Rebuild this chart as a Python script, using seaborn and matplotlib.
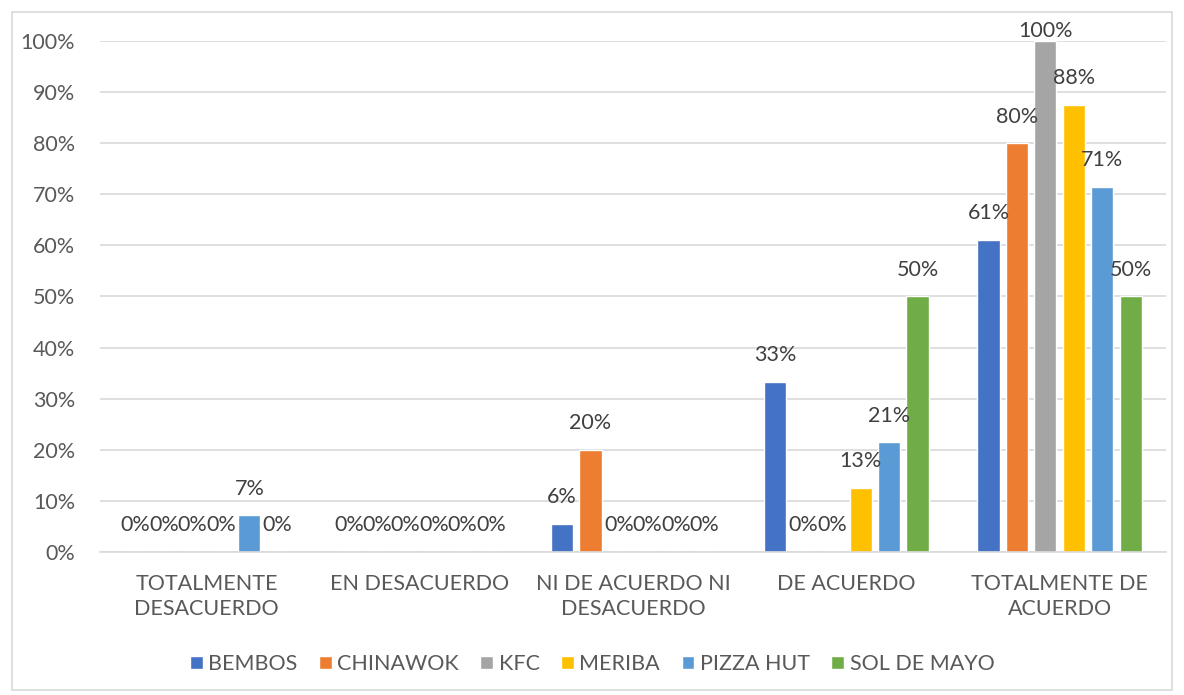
import numpy as np
import pandas as pd
import seaborn as sns
import matplotlib
matplotlib.use("Agg")
import matplotlib.pyplot as plt
from matplotlib.patches import Rectangle
import math

categories = ["TOTALMENTE\nDESACUERDO", "EN DESACUERDO", "NI DE ACUERDO NI\nDESACUERDO",
              "DE ACUERDO", "TOTALMENTE DE\nACUERDO"]
brands = ["BEMBOS", "CHINAWOK", "KFC", "MERIBA", "PIZZA HUT", "SOL DE MAYO"]
bembos = [0.0, 0.0, 5.56, 33.33, 61.11]
chinawok = [0.0, 0.0, 20.0, 0.0, 80.0]
kfc = [0.0, 0.0, 0.0, 0.0, 100.0]
meriba = [0.0, 0.0, 0.0, 12.5, 87.5]
pizza_hut = [7.14, 0.0, 0.0, 21.43, 71.43]
sol_de_mayo = [0.0, 0.0, 0.0, 50.0, 50.0]
colors = ["#4472C4", "#ED7D31", "#A5A5A5", "#FFC000", "#5B9BD5", "#70AD47"]

series = [bembos, chinawok, kfc, meriba, pizza_hut, sol_de_mayo]
rows = []
for b, vals in zip(brands, series):
    for c, v in zip(categories, vals):
        rows.append({"cat": c, "brand": b, "val": v})
df = pd.DataFrame(rows)

sns.set_theme(style="white")
plt.rcParams["font.family"] = ["Lato", "DejaVu Sans"]
FS = 15.5

fig = plt.figure(figsize=(11.84, 6.95), dpi=100)
ax = fig.add_axes([0.0845, 0.2058, 0.9005, 0.7352])

sns.barplot(data=df, x="cat", y="val", hue="brand", order=categories, hue_order=brands,
            palette=colors, width=0.8, gap=0.22, ax=ax, errorbar=None, saturation=1,
            legend=True)

ax.set_ylim(0, 100)
ax.set_yticks(np.arange(0, 101, 10))
ax.set_yticklabels([f"{t}%" for t in range(0, 101, 10)], color="#595959", fontsize=FS)
ax.set_xticklabels(categories, color="#595959", fontsize=FS, linespacing=1.3)
ax.set_xlabel("")
ax.set_ylabel("")
ax.tick_params(axis="both", length=0)
ax.tick_params(axis="y", pad=18)
ax.tick_params(axis="x", pad=16)
ax.yaxis.grid(True, color="#D9D9D9", linewidth=1.2)
ax.set_axisbelow(True)
for s in ["top", "right", "left"]:
    ax.spines[s].set_visible(False)
ax.spines["bottom"].set_color("#D9D9D9")
ax.spines["bottom"].set_linewidth(1.2)

for cont, vals in zip(ax.containers, series):
    for bar, v in zip(cont, vals):
        lab = f"{int(math.floor(v + 0.5))}%"
        x = bar.get_x() + bar.get_width() / 2
        off = 0 if v >= 99.5 else 12
        ax.annotate(lab, (x, v), xytext=(0, off), textcoords="offset points",
                    ha="center", va="bottom", fontsize=FS, color="#404040",
                    annotation_clip=False)

leg = ax.legend(loc="center", bbox_to_anchor=(0.5, (695 - 664) / 695), bbox_transform=fig.transFigure,
                ncol=6, frameon=False, fontsize=FS, handlelength=0.6, handleheight=0.6,
                handletextpad=0.25, columnspacing=1.0)
for t in leg.get_texts():
    t.set_color("#595959")

fig.patches.append(Rectangle((12 / 1184, 5 / 695), 1160 / 1184, 678 / 695, transform=fig.transFigure,
                             fill=False, edgecolor="#D9D9D9", linewidth=1.2))

fig.savefig("out.png", dpi=100)
